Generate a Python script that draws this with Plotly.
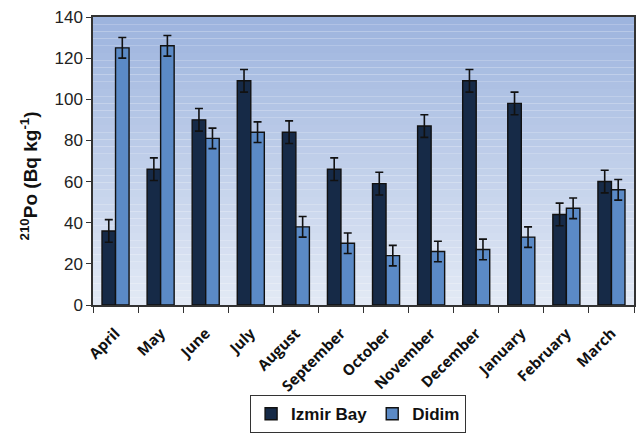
import plotly.graph_objects as go

months = ["April", "May", "June", "July", "August", "September", "October",
          "November", "December", "January", "February", "March"]
izmir = [36, 66, 90, 109, 84, 66, 59, 87, 109, 98, 44, 60]
izmir_err = [5.5, 5.5, 5.5, 5.5, 5.5, 5.5, 5.5, 5.5, 5.5, 5.5, 5.5, 5.5]
didim = [125, 126, 81, 84, 38, 30, 24, 26, 27, 33, 47, 56]
didim_err = [5, 5, 5, 5, 5, 5, 5, 5, 5, 5, 5, 5]
y_ticks = [0, 20, 40, 60, 80, 100, 120, 140]

err_style = dict(type="data", color="#111111", thickness=1.6, width=4)

fig = go.Figure()
fig.add_trace(go.Bar(
    x=months, y=izmir, name="Izmir Bay",
    marker=dict(color="#162a47", line=dict(color="#111111", width=1.4)),
    error_y=dict(array=izmir_err, **err_style),
))
fig.add_trace(go.Bar(
    x=months, y=didim, name="Didim",
    marker=dict(color="#5b8ac6", line=dict(color="#111111", width=1.4)),
    error_y=dict(array=didim_err, **err_style),
))

# vertical gradient background in the plot area
top = (157, 180, 222)
bot = (226, 233, 245)
n = 40
shapes = []
for i in range(n):
    t = i / (n - 1)
    c = tuple(round(top[k] + (bot[k] - top[k]) * t) for k in range(3))
    shapes.append(dict(
        type="rect", xref="x domain", yref="y domain",
        x0=0, x1=1, y0=1 - (i + 1) / n, y1=1 - i / n,
        fillcolor="rgb(%d,%d,%d)" % c, line=dict(width=0), layer="below",
    ))

fig.update_layout(
    width=638, height=437,
    margin=dict(l=93, r=4, t=17, b=129),
    paper_bgcolor="white",
    plot_bgcolor="rgba(0,0,0,0)",
    shapes=shapes,
    barmode="group",
    bargap=0.4,
    bargroupgap=0,
    font=dict(family="Liberation Sans, Arial", color="#222222"),
    showlegend=True,
    legend=dict(
        orientation="h", x=0.49, xanchor="center", y=-0.445, yanchor="bottom",
        bordercolor="#333333", borderwidth=1, bgcolor="white",
        font=dict(size=17, color="#111111", family="Liberation Sans, Arial",
                  weight="bold"),
        itemwidth=30, tracegroupgap=0,
    ),
    annotations=[dict(
        text="<b><sup>210</sup>Po (Bq kg<sup>-1</sup>)</b>",
        xref="paper", yref="paper", x=-0.118, y=0.447,
        xanchor="center", yanchor="middle", textangle=-90, showarrow=False,
        font=dict(size=19, color="#111111", family="Liberation Sans, Arial"),
    )],
    yaxis=dict(
        range=[0, 140], tickvals=y_ticks, ticks="outside", ticklen=5,
        tickcolor="#333333", showgrid=False, zeroline=False, automargin=False,
        showline=True, linecolor="#333333", linewidth=1.5, mirror=True,
        tickfont=dict(size=17, color="#222222"),
    ),
    xaxis=dict(
        tickangle=-45, ticks="outside", ticklen=6, tickson="boundaries",
        tickcolor="#333333", showgrid=False, automargin=False,
        showline=True, linecolor="#333333", linewidth=1.5, mirror=True,
        ticklabelstandoff=12,
        tickfont=dict(size=15, color="#111111", family="Open Sans",
                      weight="bold"),
    ),
)

fig.write_html("out.html")
